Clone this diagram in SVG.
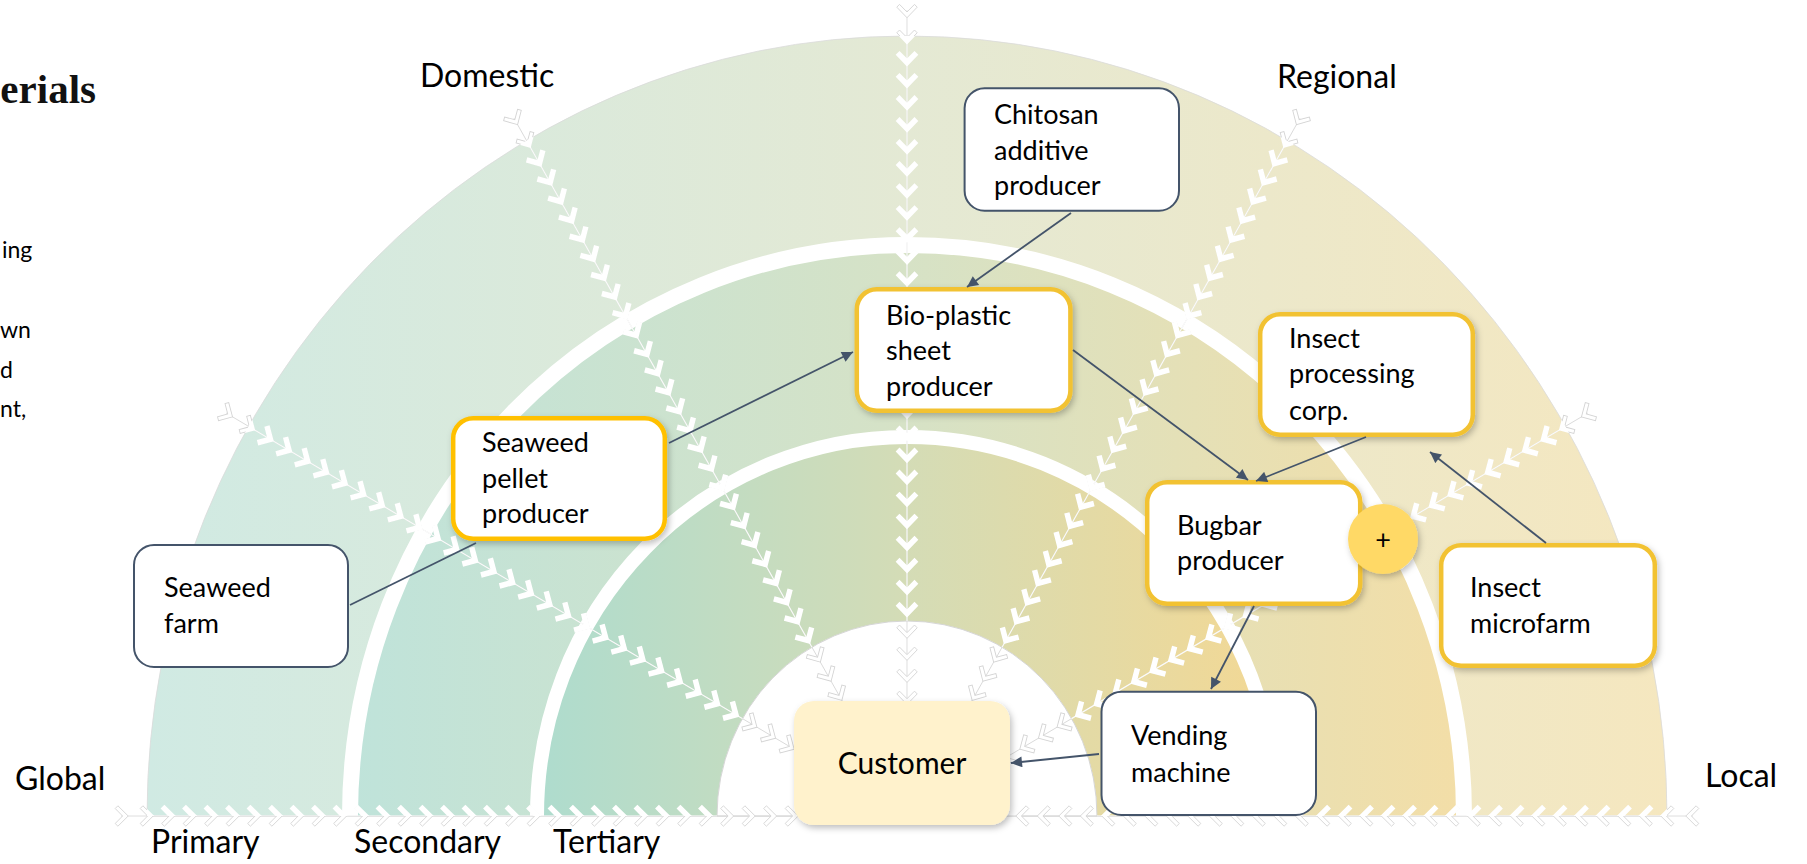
<svg xmlns="http://www.w3.org/2000/svg" xmlns:xlink="http://www.w3.org/1999/xlink" width="1807" height="864" viewBox="0 0 1807 864">
<style>
.lbl{font-family:Lato,"Liberation Sans",sans-serif;font-size:32px;fill:#000}
.nt{font-family:Lato,"Liberation Sans",sans-serif;font-size:27px;fill:#000}
.body{font-family:Lato,"Liberation Sans",sans-serif;font-size:23px;fill:#000}
.ttl{font-family:"Liberation Serif",serif;font-weight:bold;font-size:41px;fill:#111}
.ybox{fill:#fff;stroke:#F2C232;stroke-width:4.5}
.dbox{fill:#fff;stroke:#44546A;stroke-width:2}
.conn{stroke:#44546A;stroke-width:1.8;fill:none}
</style>
<defs>
<linearGradient id="g1" gradientUnits="userSpaceOnUse" x1="147" y1="0" x2="1667" y2="0">
<stop offset="0" stop-color="#D0EAE3"/><stop offset="0.5" stop-color="#E4E9D4"/><stop offset="1" stop-color="#F5E7BF"/>
</linearGradient>
<linearGradient id="g2" gradientUnits="userSpaceOnUse" x1="350" y1="0" x2="1464" y2="0">
<stop offset="0" stop-color="#BFE3DA"/><stop offset="0.5" stop-color="#D6E2C6"/><stop offset="1" stop-color="#F3DEA7"/>
</linearGradient>
<linearGradient id="g3" gradientUnits="userSpaceOnUse" x1="537" y1="0" x2="1277" y2="0">
<stop offset="0" stop-color="#AEDCCE"/><stop offset="0.5" stop-color="#D4DCB6"/><stop offset="1" stop-color="#F3D894"/>
</linearGradient>
<filter id="sh" x="-20%" y="-20%" width="140%" height="150%">
<feDropShadow dx="2" dy="3" stdDeviation="3" flood-color="#000" flood-opacity="0.25"/>
</filter>
<marker id="arr" viewBox="0 0 10 10" refX="10" refY="5" markerWidth="13" markerHeight="11" markerUnits="userSpaceOnUse" orient="auto">
<path d="M0,0 L10,5 L0,10 z" fill="#44546A"/>
</marker>
<clipPath id="colorClip">
<path clip-rule="evenodd" d="M147,816 A760,780 0 0 1 1667,816 Z M717,816 A190,195 0 0 1 1097,816 Z"/>
</clipPath>
<polygon id="chev" points="-7.2,0 3.1,-10.2 5.8,-7.5 -1.6,0 5.8,7.5 3.1,10.2"/>
<line id="rline" x1="110" y1="0" x2="786" y2="0"/>
<g id="ray">
<use xlink:href="#chev" x="786"/>
<use xlink:href="#chev" x="761"/><use xlink:href="#chev" x="739.5"/><use xlink:href="#chev" x="718"/><use xlink:href="#chev" x="696.5"/>
<use xlink:href="#chev" x="675"/><use xlink:href="#chev" x="653.5"/><use xlink:href="#chev" x="632"/><use xlink:href="#chev" x="610.5"/>
<use xlink:href="#chev" x="589"/><use xlink:href="#chev" x="567.5"/><use xlink:href="#chev" x="546"/><use xlink:href="#chev" x="524.5"/>
<use xlink:href="#chev" x="503"/><use xlink:href="#chev" x="481.5"/><use xlink:href="#chev" x="460"/><use xlink:href="#chev" x="438.5"/>
<use xlink:href="#chev" x="417"/><use xlink:href="#chev" x="395.5"/><use xlink:href="#chev" x="374"/><use xlink:href="#chev" x="352.5"/>
<use xlink:href="#chev" x="331"/><use xlink:href="#chev" x="309.5"/><use xlink:href="#chev" x="288"/><use xlink:href="#chev" x="266.5"/>
<use xlink:href="#chev" x="245"/><use xlink:href="#chev" x="223.5"/><use xlink:href="#chev" x="202"/><use xlink:href="#chev" x="180.5"/>
<use xlink:href="#chev" x="159"/><use xlink:href="#chev" x="137.5"/><use xlink:href="#chev" x="116"/>
</g>
<g id="lines7">
<use xlink:href="#rline" transform="translate(907 816) rotate(180)"/>
<use xlink:href="#rline" transform="translate(907 816) scale(1 1.025) rotate(-150)"/>
<use xlink:href="#rline" transform="translate(907 816) scale(1 1.025) rotate(-120)"/>
<use xlink:href="#rline" transform="translate(907 816) scale(1 1.025) rotate(-90)"/>
<use xlink:href="#rline" transform="translate(907 816) scale(1 1.025) rotate(-60)"/>
<use xlink:href="#rline" transform="translate(907 816) scale(1 1.025) rotate(-30)"/>
<use xlink:href="#rline" transform="translate(907 816)"/>
</g>
<g id="rays7">
<use xlink:href="#ray" transform="translate(907 816) rotate(180)"/>
<use xlink:href="#ray" transform="translate(907 816) scale(1 1.025) rotate(-150)"/>
<use xlink:href="#ray" transform="translate(907 816) scale(1 1.025) rotate(-120)"/>
<use xlink:href="#ray" transform="translate(907 816) scale(1 1.025) rotate(-90)"/>
<use xlink:href="#ray" transform="translate(907 816) scale(1 1.025) rotate(-60)"/>
<use xlink:href="#ray" transform="translate(907 816) scale(1 1.025) rotate(-30)"/>
<use xlink:href="#ray" transform="translate(907 816)"/>
</g>
</defs>

<g id="background">
<path d="M147,816 A760,780 0 0 1 1667,816 Z" fill="url(#g1)" stroke="#DADADA" stroke-width="0.8"/>
<path d="M350,816 A557,571 0 0 1 1464,816 Z" fill="url(#g2)"/>
<path d="M537,816 A370,379 0 0 1 1277,816 Z" fill="url(#g3)"/>
<path d="M350,816 A557,571 0 0 1 1464,816" fill="none" stroke="#fff" stroke-width="16"/>
<path d="M537,816 A370,379 0 0 1 1277,816" fill="none" stroke="#fff" stroke-width="14"/>
<path d="M717,816 A190,195 0 0 1 1097,816 Z" fill="#fff" stroke="#D6D6D6" stroke-width="1"/>
</g>

<g id="rays">
<use xlink:href="#lines7" fill="none" stroke="#D6D6D6" stroke-width="0.8"/>
<use xlink:href="#rays7" fill="#fff" stroke="#D4D4D4" stroke-width="0.9"/>
<g clip-path="url(#colorClip)">
<use xlink:href="#lines7" fill="none" stroke="#fff" stroke-width="1.1" stroke-opacity="0.9"/>
<use xlink:href="#rays7" fill="#fff" stroke="#fff" stroke-width="1.6"/>
</g>
</g>

<g id="labels">
<text class="ttl" x="96" y="103" text-anchor="end">erials</text>
<text class="body" x="2" y="258">ing</text>
<text class="body" x="0" y="338">wn</text>
<text class="body" x="0" y="378">d</text>
<text class="body" x="0" y="417">nt,</text>
<text class="lbl" x="420" y="87">Domestic</text>
<text class="lbl" x="1277" y="88">Regional</text>
<text class="lbl" x="15" y="790">Global</text>
<text class="lbl" x="1705" y="787">Local</text>
<text class="lbl" x="151" y="853">Primary</text>
<text class="lbl" x="354" y="853">Secondary</text>
<text class="lbl" x="553" y="853">Tertiary</text>
</g>

<g id="node-chitosan">
<rect class="dbox" x="964.6" y="88.3" width="214.4" height="122.4" rx="20"/>
<text class="nt" x="994" y="124">Chitosan</text>
<text class="nt" x="994" y="160">additive</text>
<text class="nt" x="994" y="195">producer</text>
</g>
<g id="node-bioplastic">
<rect class="ybox" filter="url(#sh)" x="856.8" y="289.2" width="213.6" height="121.6" rx="20"/>
<text class="nt" x="886" y="325">Bio-plastic</text>
<text class="nt" x="886" y="360">sheet</text>
<text class="nt" x="886" y="396">producer</text>
</g>
<g id="node-pellet">
<rect class="ybox" style="stroke:#FFC000" filter="url(#sh)" x="453.2" y="418.2" width="211.6" height="120.6" rx="20"/>
<text class="nt" x="482" y="452">Seaweed</text>
<text class="nt" x="482" y="488">pellet</text>
<text class="nt" x="482" y="523">producer</text>
</g>
<g id="node-farm">
<rect class="dbox" x="134" y="545" width="214" height="122" rx="20"/>
<text class="nt" x="164" y="597">Seaweed</text>
<text class="nt" x="164" y="633">farm</text>
</g>
<g id="node-processing">
<rect class="ybox" filter="url(#sh)" x="1260.2" y="314.2" width="212.6" height="120.6" rx="20"/>
<text class="nt" x="1289" y="348">Insect</text>
<text class="nt" x="1289" y="383">processing</text>
<text class="nt" x="1289" y="420">corp.</text>
</g>
<g id="node-bugbar">
<rect class="ybox" filter="url(#sh)" x="1147.2" y="482.2" width="213" height="121.6" rx="20"/>
<text class="nt" x="1177" y="535">Bugbar</text>
<text class="nt" x="1177" y="570">producer</text>
</g>
<g id="node-plus">
<circle cx="1383" cy="539" r="35" fill="#FFD966" filter="url(#sh)"/>
<text class="nt" x="1383" y="549" text-anchor="middle">+</text>
</g>
<g id="node-microfarm">
<rect class="ybox" filter="url(#sh)" x="1441.2" y="545.2" width="213.6" height="120.6" rx="20"/>
<text class="nt" x="1470" y="597">Insect</text>
<text class="nt" x="1470" y="633">microfarm</text>
</g>
<g id="node-vending">
<rect class="dbox" x="1101.5" y="691.7" width="214.5" height="123.3" rx="20"/>
<text class="nt" x="1131" y="745">Vending</text>
<text class="nt" x="1131" y="782">machine</text>
</g>
<g id="node-customer">
<rect x="794" y="701" width="216" height="124" rx="20" fill="#FFF2CC" filter="url(#sh)"/>
<text class="nt" style="font-size:30px" x="902" y="774" text-anchor="middle">Customer</text>
</g>

<g id="connectors">
<path class="conn" d="M350,605 L476,543"/>
<path class="conn" d="M669,443 L853,352" marker-end="url(#arr)"/>
<path class="conn" d="M1071,213 L967,287" marker-end="url(#arr)"/>
<path class="conn" d="M1073,350 L1248,480" marker-end="url(#arr)"/>
<path class="conn" d="M1366,437 L1256,481" marker-end="url(#arr)"/>
<path class="conn" d="M1546,543 L1430,452" marker-end="url(#arr)"/>
<path class="conn" d="M1254,606 L1211,689" marker-end="url(#arr)"/>
<path class="conn" d="M1099,754 L1011,763" marker-end="url(#arr)"/>
</g>
</svg>
